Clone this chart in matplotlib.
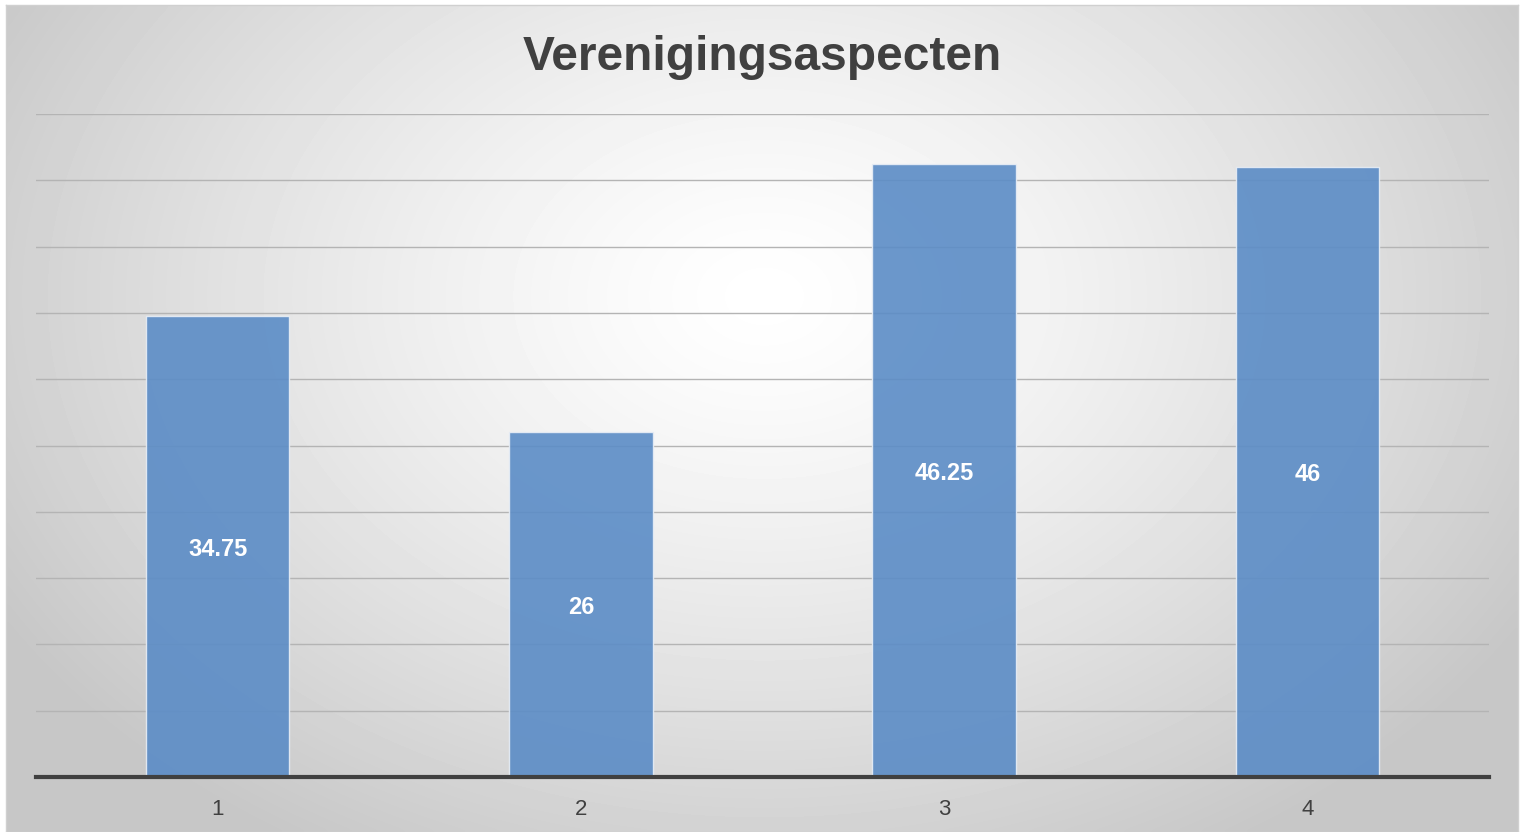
import matplotlib
matplotlib.use('Agg')
import matplotlib.pyplot as plt
import numpy as np

plt.rcParams['font.family'] = ['Liberation Sans', 'DejaVu Sans']

categories = ['1', '2', '3', '4']
values = [34.75, 26, 46.25, 46]
value_labels = ['34.75', '26', '46.25', '46']

W, H = 1523, 832
fig = plt.figure(figsize=(W / 100, H / 100), dpi=100)
fig.patch.set_facecolor('white')

# radial gradient background of the chart frame
fx0, fx1, fy0, fy1 = 6, 1518, 5, 832
bg = fig.add_axes([fx0 / W, 0, (fx1 - fx0) / W, (fy1 - fy0) / H])
yy, xx = np.mgrid[0:200, 0:300]
cx, cy = 150, 70
r = np.sqrt(((xx - cx) / 175.0) ** 2 + ((yy - cy) / 155.0) ** 2)
r = np.clip(r, 0, 1)
shade = 1.0 - 0.22 * r ** 1.3
bg.imshow(shade, cmap='gray', vmin=0, vmax=1, aspect='auto', extent=[0, 1, 0, 1],
          interpolation='bicubic')
bg.set_xticks([])
bg.set_yticks([])
for s in bg.spines.values():
    s.set_color('#d0d0d0')
    s.set_linewidth(1)

ax = fig.add_axes([36 / W, (H - 777) / H, (1489 - 36) / W, (777 - 114) / H])
ax.patch.set_alpha(0)
x = np.arange(len(categories))
ax.set_xlim(-0.5, len(categories) - 0.5)
ax.set_ylim(0, 50)
ax.set_yticks(np.arange(0, 51, 5))
ax.yaxis.grid(True, color='#b4b4b4', linewidth=1)
ax.set_axisbelow(True)
bars = ax.bar(x, values, width=0.395, color='#5b8cc6', alpha=0.9,
              edgecolor='#e8eef6', linewidth=1, zorder=2)
for xi, v, lab in zip(x, values, value_labels):
    ax.annotate(lab, (xi, v / 2), xytext=(0, -2), textcoords='offset points',
                ha='center', va='center', color='white',
                fontsize=17, fontweight='bold', zorder=3)

ax.set_xticks(x)
ax.set_xticklabels(categories, fontsize=16, color='#404040')
ax.tick_params(axis='x', length=0, pad=16)
ax.tick_params(axis='y', length=0, labelleft=False)
for s in ['top', 'right', 'left']:
    ax.spines[s].set_visible(False)
ax.spines['bottom'].set_color('#404040')
ax.spines['bottom'].set_linewidth(3)
ax.spines['bottom'].set_zorder(4)

fig.text(762 / W, 1 - 58 / H, 'Verenigingsaspecten', ha='center', va='center',
         fontsize=34.5, fontweight='bold', color='#404040')

fig.savefig('out.png', dpi=100)
